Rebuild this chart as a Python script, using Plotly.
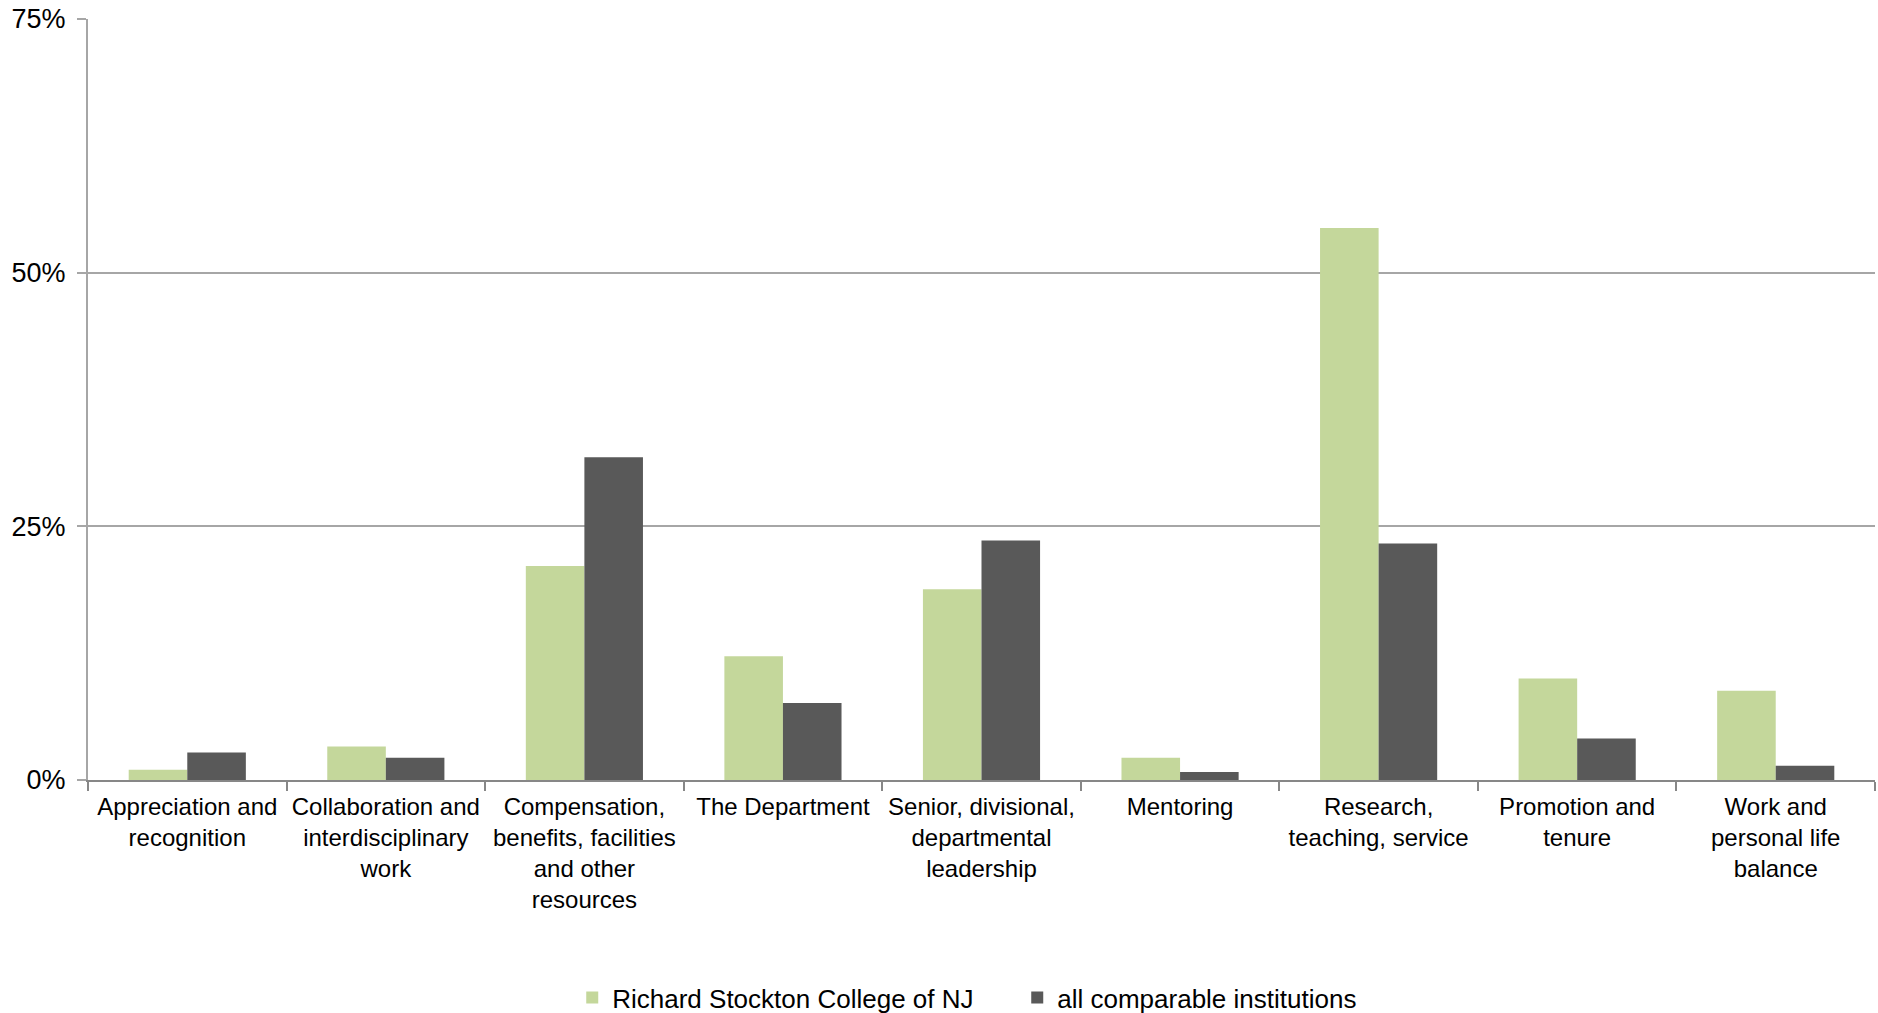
import plotly.graph_objects as go

categories = [
    "Appreciation and<br>recognition",
    "Collaboration and<br>interdisciplinary<br>work",
    "Compensation,<br>benefits, facilities<br>and other<br>resources",
    "The Department",
    "Senior, divisional,<br>departmental<br>leadership",
    "Mentoring",
    "Research,<br>teaching, service",
    "Promotion and<br>tenure",
    "Work and<br>personal life<br>balance",
]
stockton = [1.0, 3.3, 21.1, 12.2, 18.8, 2.2, 54.4, 10.0, 8.8]
comparable = [2.7, 2.2, 31.8, 7.6, 23.6, 0.8, 23.3, 4.1, 1.4]
y_ticks = [0, 25, 50, 75]
y_tick_labels = ["0%", "25%", "50%", "75%"]

fig = go.Figure()
fig.add_trace(go.Bar(x=categories, y=stockton, name="Richard Stockton College of NJ",
                     marker=dict(color="#C4D79B", line=dict(width=0))))
fig.add_trace(go.Bar(x=categories, y=comparable, name="all comparable institutions",
                     marker=dict(color="#595959", line=dict(width=0))))

fig.update_layout(
    width=1878, height=1013,
    margin=dict(l=88, r=3, t=19, b=233, autoexpand=False),
    paper_bgcolor="white", plot_bgcolor="white",
    barmode="group", bargap=0.41, bargroupgap=0,
    font=dict(family="Liberation Sans, Arial, sans-serif", size=24, color="black"),
    legend=dict(orientation="h", x=0.52, xanchor="center", y=-0.286, yanchor="middle",
                font=dict(size=26), itemsizing="constant", traceorder="normal",
                entrywidth=400),
    showlegend=True,
)
fig.update_xaxes(
    type="category", showline=True, linecolor="#878787", linewidth=2,
    ticks="outside", tickson="boundaries", ticklen=9, tickcolor="#878787", tickwidth=2,
    showgrid=False, tickangle=0, tickfont=dict(size=24), ticklabelstandoff=4,
    automargin=False,
)
fig.update_yaxes(
    range=[0, 75], tickvals=y_ticks, ticktext=y_tick_labels,
    showline=True, linecolor="#A6A6A6", linewidth=2,
    ticks="outside", ticklen=9, tickcolor="#A6A6A6", tickwidth=2,
    showgrid=True, gridcolor="#A6A6A6", gridwidth=2, zeroline=False,
    tickfont=dict(size=27), ticklabelstandoff=6, automargin=False,
)

fig.write_html("out.html", config={"displayModeBar": False},
               post_script="document.body.style.margin='0px';")
